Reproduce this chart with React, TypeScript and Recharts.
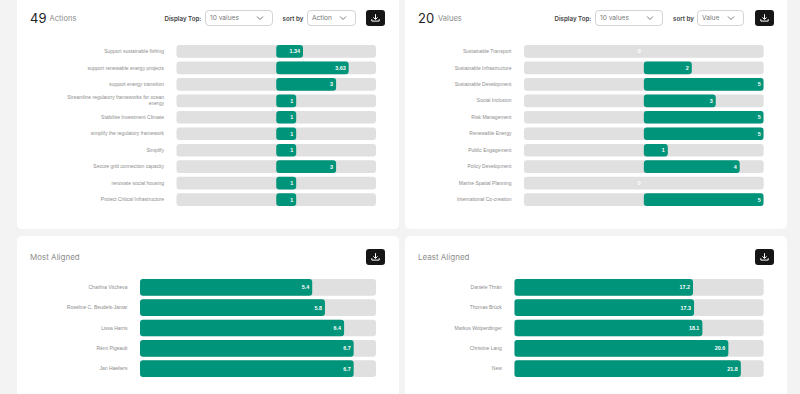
import React from "react";
import { BarChart, Bar, XAxis, YAxis, LabelList, Text } from "recharts";

const actionLabels = [
  "Support sustainable fishing",
  "support renewable energy projects",
  "support energy transition",
  "Streamline regulatory frameworks for ocean energy",
  "Stabilise Investment Climate",
  "simplify the regulatory framework",
  "Simplify",
  "Secure grid connection capacity",
  "renovate social housing",
  "Protect Critical Infrastructure",
];
const actionValues = [1.34, 3.63, 3, 1, 1, 1, 1, 3, 1, 1];

const valueLabels = [
  "Sustainable Transport",
  "Sustainable Infrastructure",
  "Sustainable Development",
  "Social Inclusion",
  "Risk Management",
  "Renewable Energy",
  "Public Engagement",
  "Policy Development",
  "Marine Spatial Planning",
  "International Co-creation",
];
const valueValues = [0, 2, 5, 3, 5, 5, 1, 4, 0, 5];

const mostLabels = ["Charlina Vitcheva", "Roseline C. Beudels-Jamar", "Lissa Harris", "Rémi Pigeault", "Jan Haelters"];
const mostValues = [5.4, 5.8, 6.4, 6.7, 6.7];

const leastLabels = ["Daniele Thrän", "Thomas Brück", "Markus Wolperdinger", "Christine Lang", "New"];
const leastValues = [17.2, 17.3, 18.1, 20.6, 21.8];

const FONT = "Inter, 'Liberation Sans', sans-serif";
const GREEN = "#00957a";
const TRACK = "#e0e0e0";

const zip = (names: string[], values: number[]) => names.map((name, i) => ({ name, value: values[i] }));

function Tick(props: any) {
  const { x, y, payload } = props;
  const wraps = String(payload.value).length > 45;
  return (
    <Text
      x={x}
      y={y + (wraps ? 4 : 1.8)}
      width={102}
      textAnchor="end"
      lineHeight="5.6px"
      style={{ fontSize: "5px", fontFamily: "'Liberation Sans', sans-serif" }}
      fill="#8c8c8c"
    >
      {payload.value}
    </Text>
  );
}

function Chart({ data, left, trackLeft, trackRight, top, step, barH, domain }: any) {
  const height = data.length * step;
  return (
    <div style={{ position: "absolute", left, top }}>
      <BarChart
        layout="vertical"
        width={trackRight - left}
        height={height}
        data={data}
        margin={{ top: 0, right: 0, bottom: 0, left: 0 }}
        barSize={barH}
      >
        <XAxis type="number" hide domain={domain} allowDataOverflow />
        <YAxis
          type="category"
          dataKey="name"
          width={trackLeft - left}
          axisLine={false}
          tickLine={false}
          tickMargin={12.5}
          tickSize={0}
          interval={0}
          tick={<Tick />}
        />
        <Bar
          dataKey="value"
          fill={GREEN}
          radius={3}
          minPointSize={0.01}
          background={{ fill: TRACK, radius: 3 }}
          isAnimationActive={false}
        >
          <LabelList
            dataKey="value"
            position="insideRight"
            offset={3}
            fill="#ffffff"
            fontSize={5.4}
            fontWeight={700}
            fontFamily="'Liberation Sans', sans-serif"
          />
        </Bar>
      </BarChart>
    </div>
  );
}

const Box = ({ left, top, width, height, style, children }: any) => (
  <div style={{ position: "absolute", left, top, width, height, boxSizing: "border-box", ...style }}>{children}</div>
);

const Card = ({ left, top, height }: any) => (
  <Box left={left} top={top} width={381.5} height={height} style={{ background: "#fff", borderRadius: 5 }} />
);

const Button = ({ left, top }: any) => (
  <Box left={left} top={top} width={19} height={16} style={{ background: "#161616", borderRadius: 3 }}>
    <svg width={19} height={16} style={{ display: "block" }}>
      <path
        d="M9.5 4.2v5M7.4 7.4l2.1 2 2.1-2M5.8 9.2v1.9h7.4V9.2"
        fill="none"
        stroke="#fff"
        strokeWidth={1}
      />
    </svg>
  </Box>
);

const Select = ({ left, width, text }: any) => (
  <Box
    left={left}
    top={10}
    width={width}
    height={16}
    style={{ background: "#fff", border: "1px solid #d4d4d4", borderRadius: 4 }}
  >
    <span style={{ position: "absolute", left: 4, top: 0, lineHeight: "14px", fontSize: 6.6, color: "#777", whiteSpace: "nowrap" }}>
      {text}
    </span>
    <svg width={8} height={6} style={{ position: "absolute", right: 8, top: 4 }}>
      <path d="M1 1.5l3 3 3-3" fill="none" stroke="#555" strokeWidth={0.8} />
    </svg>
  </Box>
);

const Caption = ({ left, top, children, style }: any) => (
  <div style={{ position: "absolute", left, top, whiteSpace: "nowrap", ...style }}>{children}</div>
);

const Header = ({ x, count, noun, sort, offsets }: any) => (
  <>
    <Caption left={x} top={10} style={{ fontSize: 13, lineHeight: "17px", color: "#222" }}>{count}</Caption>
    <Caption left={x + offsets.noun} top={13} style={{ fontSize: 7.6, lineHeight: "11px", color: "#8d8d8d" }}>{noun}</Caption>
    <Caption left={x + offsets.display} top={14} style={{ fontSize: 6.2, lineHeight: "9px", fontWeight: 600, color: "#444" }}>Display Top:</Caption>
    <Select left={x + offsets.select1} width={67.5} text="10 values" />
    <Caption left={x + offsets.sort} top={14} style={{ fontSize: 6.2, lineHeight: "9px", fontWeight: 600, color: "#444" }}>sort by</Caption>
    <Select left={x + offsets.select2} width={sort === "Action" ? 48.5 : 46.5} text={sort} />
    <Button left={x + offsets.button} top={10} />
  </>
);

export default function App() {
  return (
    <div style={{ position: "fixed", left: 0, top: 0, width: 800, height: 394, overflow: "hidden", background: "#f3f3f3", fontFamily: FONT }}>
      <Card left={17} top={-10} height={239} />
      <Card left={405} top={-10} height={239} />
      <Card left={17} top={236} height={180} />
      <Card left={405} top={236} height={180} />

      <Header
        x={30}
        count="49"
        noun="Actions"
        sort="Action"
        offsets={{ noun: 19.5, display: 134.5, select1: 175, sort: 252.5, select2: 277, button: 336 }}
      />
      <Header
        x={418}
        count="20"
        noun="Values"
        sort="Value"
        offsets={{ noun: 20, display: 136.5, select1: 177, sort: 255, select2: 279, button: 336.5 }}
      />

      <Chart data={zip(actionLabels, actionValues)} left={17} trackLeft={176.5} trackRight={376} top={43.1} step={16.48} barH={12.7} domain={[-5, 5]} />
      <Chart data={zip(valueLabels, valueValues)} left={405} trackLeft={524} trackRight={763.7} top={43.1} step={16.48} barH={12.7} domain={[-5, 5]} />

      <Caption left={30} top={251} style={{ fontSize: 8, lineHeight: "12px", color: "#8d8d8d" }}>Most Aligned</Caption>
      <Button left={366} top={248.7} />
      <Chart data={zip(mostLabels, mostValues)} left={17} trackLeft={140} trackRight={376} top={276.9} step={20.33} barH={16.7} domain={[0, 7.4]} />

      <Caption left={418} top={251} style={{ fontSize: 8, lineHeight: "12px", color: "#8d8d8d" }}>Least Aligned</Caption>
      <Button left={754.5} top={248.7} />
      <Chart data={zip(leastLabels, leastValues)} left={405} trackLeft={514.3} trackRight={763.7} top={276.9} step={20.33} barH={16.7} domain={[0, 24]} />
    </div>
  );
}
